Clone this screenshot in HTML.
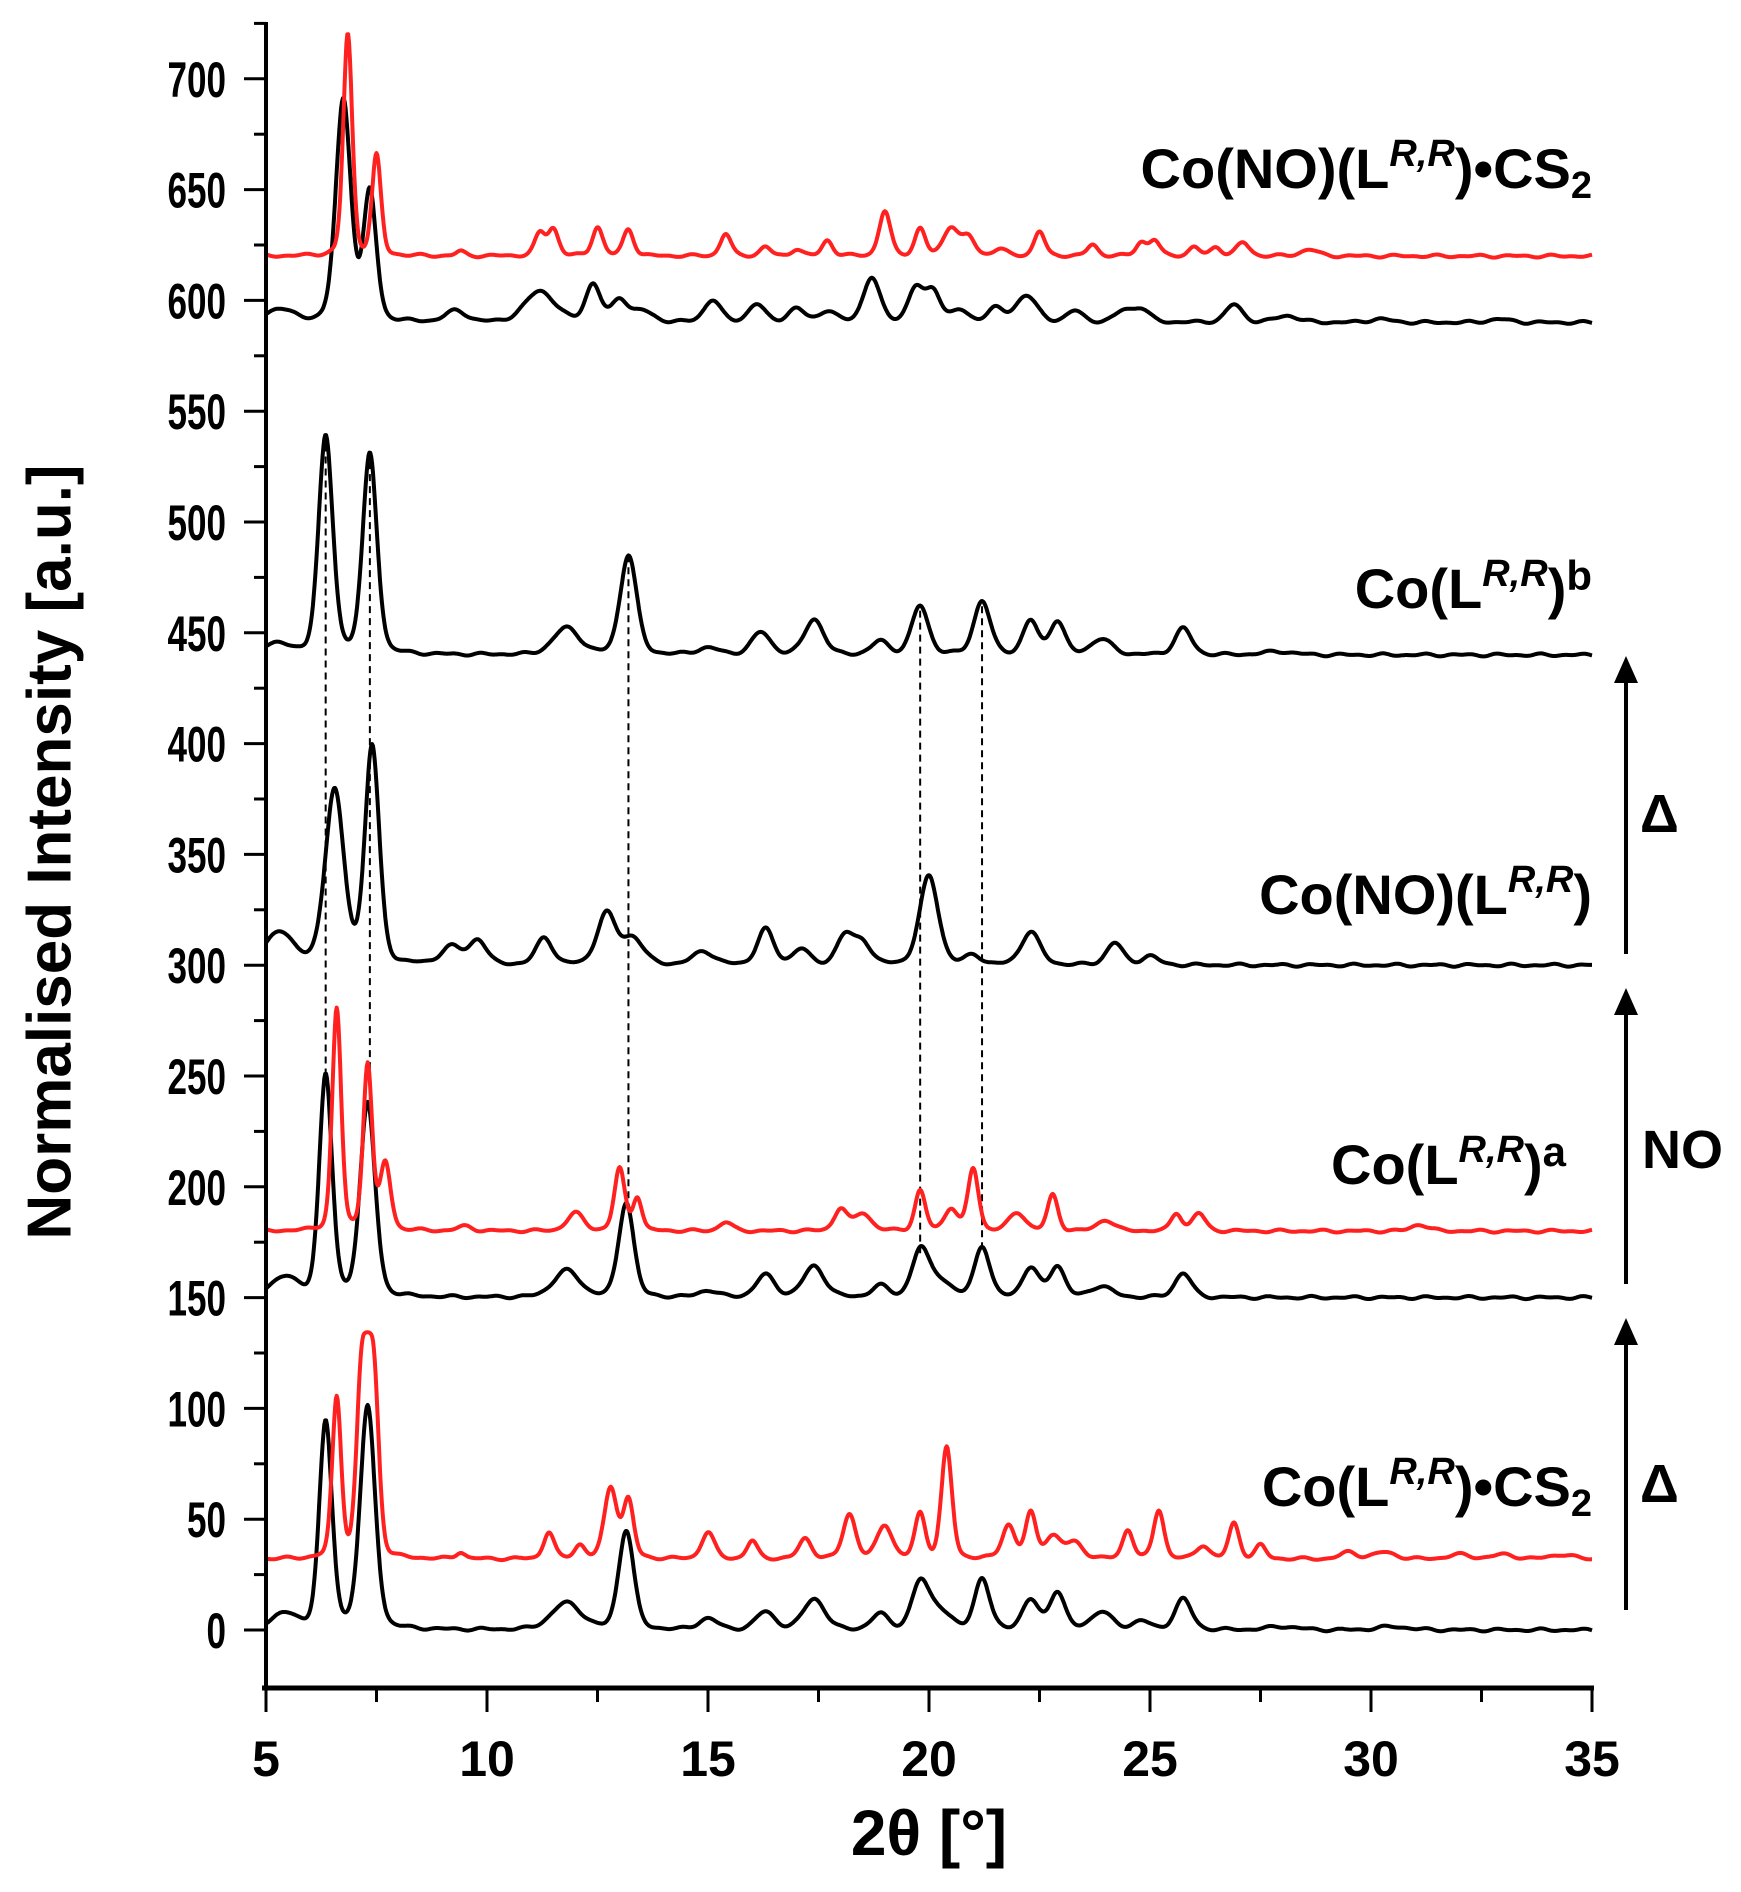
<!DOCTYPE html>
<html><head><meta charset="utf-8"><style>
html,body{margin:0;padding:0;background:#fff;}
svg{display:block;font-family:"Liberation Sans",sans-serif;font-weight:bold;}
</style></head><body>
<svg id="s" width="1741" height="1892" viewBox="0 0 1741 1892" xmlns="http://www.w3.org/2000/svg">
<g id="curves"></g>
<line x1="266" y1="22" x2="266" y2="1690" stroke="#000" stroke-width="4"/>
<line x1="262" y1="1688" x2="1594" y2="1688" stroke="#000" stroke-width="5"/>
<g id="ticks" stroke="#000" stroke-width="3"></g>
<g id="ylab" font-size="50" text-anchor="end"></g>
<g id="xlab" font-size="50" text-anchor="middle"></g>
<text x="54" y="852" font-size="62" text-anchor="middle" transform="rotate(-90 54 852)" dominant-baseline="middle">Normalised Intensity [a.u.]</text>
<text x="929" y="1855" font-size="64" text-anchor="middle">2θ [°]</text>
<g font-size="56" text-anchor="end">
<text x="1592" y="188">Co(NO)(L<tspan font-style="italic" font-size="38" dy="-22">R,R</tspan><tspan dy="22">)•CS</tspan><tspan font-size="38" dy="10">2</tspan></text>
<text x="1592" y="608">Co(L<tspan font-style="italic" font-size="38" dy="-22">R,R</tspan><tspan dy="22">)</tspan><tspan font-size="42" dy="-18">b</tspan></text>
<text x="1592" y="914">Co(NO)(L<tspan font-style="italic" font-size="38" dy="-22">R,R</tspan><tspan dy="22">)</tspan></text>
<text x="1566" y="1184">Co(L<tspan font-style="italic" font-size="38" dy="-22">R,R</tspan><tspan dy="22">)</tspan><tspan font-size="42" dy="-18">a</tspan></text>
<text x="1592" y="1506">Co(L<tspan font-style="italic" font-size="38" dy="-22">R,R</tspan><tspan dy="22">)•CS</tspan><tspan font-size="38" dy="10">2</tspan></text>
</g>
<g stroke="#000" stroke-width="4" fill="#000">
<line x1="1626" y1="1610" x2="1626" y2="1335"/><polygon points="1614,1345 1626,1318 1638,1345" stroke="none"/>
<line x1="1626" y1="1284" x2="1626" y2="1005"/><polygon points="1614,1015 1626,988 1638,1015" stroke="none"/>
<line x1="1626" y1="954" x2="1626" y2="673"/><polygon points="1614,683 1626,656 1638,683" stroke="none"/>
</g>
<g font-size="54"><text x="1640" y="1502">Δ</text><text x="1642" y="1168">NO</text><text x="1640" y="832">Δ</text></g>
</svg>
<script>
var X=function(x){return 266+(x-5)*44.2;},Y=function(v){return 1630-v*2.216;};
var S=[
{b:0,c:"#000",p:[[5.4,7,.35],[6.35,93,.17],[7.3,100,.2],[11.8,12,.4],[13.15,45,.2],[15,5,.25],[16.3,8,.25],[17.4,14,.28],[18.9,7,.22],[19.8,20,.22],[20.2,9,.3],[21.2,23,.2],[22.3,13,.22],[22.9,17,.2],[23.9,8,.28],[24.8,4,.22],[25.75,14,.22],[28,1.5,.4],[30.5,1.5,.4]]},
{b:32,c:"#ff2020",p:[[6.6,72,.12],[7.15,70,.13],[7.3,45,.13],[7.45,70,.13],[9.4,3,.12],[11.4,12,.14],[12.1,6,.14],[12.8,32,.17],[13.2,26,.14],[15,12,.17],[16,8,.14],[17.2,9,.17],[18.2,20,.17],[19,15,.2],[19.8,20,.14],[20.4,50,.14],[21.8,15,.17],[22.3,20,.14],[22.8,10,.22],[23.3,7,.22],[24.5,13,.14],[25.2,22,.14],[26.2,6,.17],[26.9,16,.14],[27.5,6,.14],[29.5,3,.22],[30.3,3,.3],[32,2,.3],[33,2,.3],[34.3,2,.3]]},
{b:150,c:"#000",p:[[5.4,9,.35],[6.35,100,.17],[7.3,87,.2],[11.8,12,.35],[13.15,43,.2],[15,3,.25],[16.3,10,.25],[17.4,14,.28],[18.9,5,.22],[19.8,20,.22],[20.2,8,.3],[21.2,23,.2],[22.3,13,.22],[22.9,14,.2],[23.9,5,.28],[25.75,11,.22]]},
{b:180,c:"#ff2020",p:[[6.6,100,.12],[7.3,75,.12],[7.7,30,.14],[9.5,2,.2],[12,8,.22],[13,28,.14],[13.4,15,.12],[15.4,4,.17],[18,10,.17],[18.5,8,.22],[19.8,18,.14],[20.5,10,.17],[21,28,.14],[22,8,.22],[22.8,16,.14],[24,5,.22],[25.6,8,.14],[26.1,8,.17],[31.1,3,.22]]},
{b:300,c:"#000",p:[[5.3,15,.35],[6.55,78,.25],[7.4,98,.19],[9.2,8,.28],[9.8,11,.22],[11.3,12,.22],[12.7,23,.25],[13.3,12,.28],[14.9,6,.28],[16.3,16,.22],[17.1,7,.22],[18.1,13,.22],[18.5,10,.22],[20,40,.25],[21.0,4,.22],[22.3,15,.25],[24.2,10,.22],[25,4,.22]]},
{b:440,c:"#000",p:[[5.2,5,.35],[6.35,98,.19],[7.35,90,.19],[11.8,12,.35],[13.2,45,.22],[15,3,.28],[16.2,10,.25],[17.4,16,.25],[18.9,6,.22],[19.8,22,.22],[21.2,24,.22],[22.3,15,.2],[22.9,15,.2],[23.9,7,.28],[25.75,12,.22],[27.9,1.5,.4]]},
{b:590,c:"#000",p:[[5.3,6,.35],[6.75,100,.2],[7.35,58,.17],[9.3,5,.28],[11.2,14,.4],[12.4,17,.2],[13,10,.2],[13.5,5,.28],[15.1,10,.22],[16.1,8,.22],[17,6,.22],[17.7,5,.22],[18.7,20,.22],[19.7,15,.2],[20.1,14,.2],[20.7,5,.22],[21.5,6,.22],[22.2,12,.28],[23.3,5,.22],[24.4,5,.22],[24.8,6,.22],[26.9,8,.22],[28.1,3,.3],[30.2,1.5,.3],[32.9,1.5,.3]]},
{b:620,c:"#ff2020",p:[[6.85,100,.12],[7.5,45,.12],[9.4,2,.12],[11.2,10,.14],[11.5,12,.14],[12.5,13,.14],[13.2,12,.14],[15.4,10,.14],[16.3,4,.14],[17.0,3,.14],[17.7,7,.14],[19,20,.15],[19.8,12,.14],[20.5,13,.2],[20.9,8,.17],[21.6,3,.17],[22.5,11,.14],[23.7,5,.14],[24.8,6,.14],[25.1,7,.14],[26,4,.14],[26.5,4,.14],[27.1,6,.17],[28.6,3,.22]]}
];
var g=document.getElementById("curves"),ns="http://www.w3.org/2000/svg";
function f(s,x){var v=s.b;for(var i=0;i<s.p.length;i++){var q=s.p[i],d=(x-q[0])/q[2];v+=q[1]*(0.75*Math.exp(-d*d*0.693)+0.25/(1+d*d));}
v+=0.4*Math.sin(x*7.1+s.b)+0.3*Math.sin(x*12.3+s.b*0.3);return v;}
[[6.35,535,250],[7.35,527,235],[13.2,485,193],[19.8,460,170],[21.2,462,173]].forEach(function(d){
var l=document.createElementNS(ns,"line");l.setAttribute("x1",X(d[0]));l.setAttribute("x2",X(d[0]));
l.setAttribute("y1",Y(d[1]));l.setAttribute("y2",Y(d[2]));l.setAttribute("stroke","#000");l.setAttribute("stroke-width","2");l.setAttribute("stroke-dasharray","7,5");g.appendChild(l);});
S.forEach(function(s){var d="";for(var x=5;x<=35.001;x+=0.02){d+=(d?"L":"M")+X(x).toFixed(1)+","+Y(f(s,x)).toFixed(1);}
var p=document.createElementNS(ns,"path");p.setAttribute("d",d);p.setAttribute("fill","none");p.setAttribute("stroke",s.c);p.setAttribute("stroke-width","4");p.setAttribute("stroke-linejoin","round");g.appendChild(p);});
var t=document.getElementById("ticks"),yl=document.getElementById("ylab"),xl=document.getElementById("xlab");
for(var v=0;v<=725;v+=25){var y=Y(v),maj=v%50==0;var l=document.createElementNS(ns,"line");l.setAttribute("x1",maj?244:254);l.setAttribute("x2",266);l.setAttribute("y1",y);l.setAttribute("y2",y);t.appendChild(l);
if(maj){var tx=document.createElementNS(ns,"text");tx.setAttribute("x",226);tx.setAttribute("y",y+18);tx.setAttribute("textLength",String(v).length*19.5);tx.setAttribute("lengthAdjust","spacingAndGlyphs");tx.textContent=v;yl.appendChild(tx);}}
for(var x=5;x<=35;x+=2.5){var px=X(x),maj=x%5==0;var l=document.createElementNS(ns,"line");l.setAttribute("x1",px);l.setAttribute("x2",px);l.setAttribute("y1",1688);l.setAttribute("y2",maj?1712:1702);t.appendChild(l);
if(maj){var tx=document.createElementNS(ns,"text");tx.setAttribute("x",px);tx.setAttribute("y",1776);tx.textContent=x;xl.appendChild(tx);}}
</script>
</body></html>
